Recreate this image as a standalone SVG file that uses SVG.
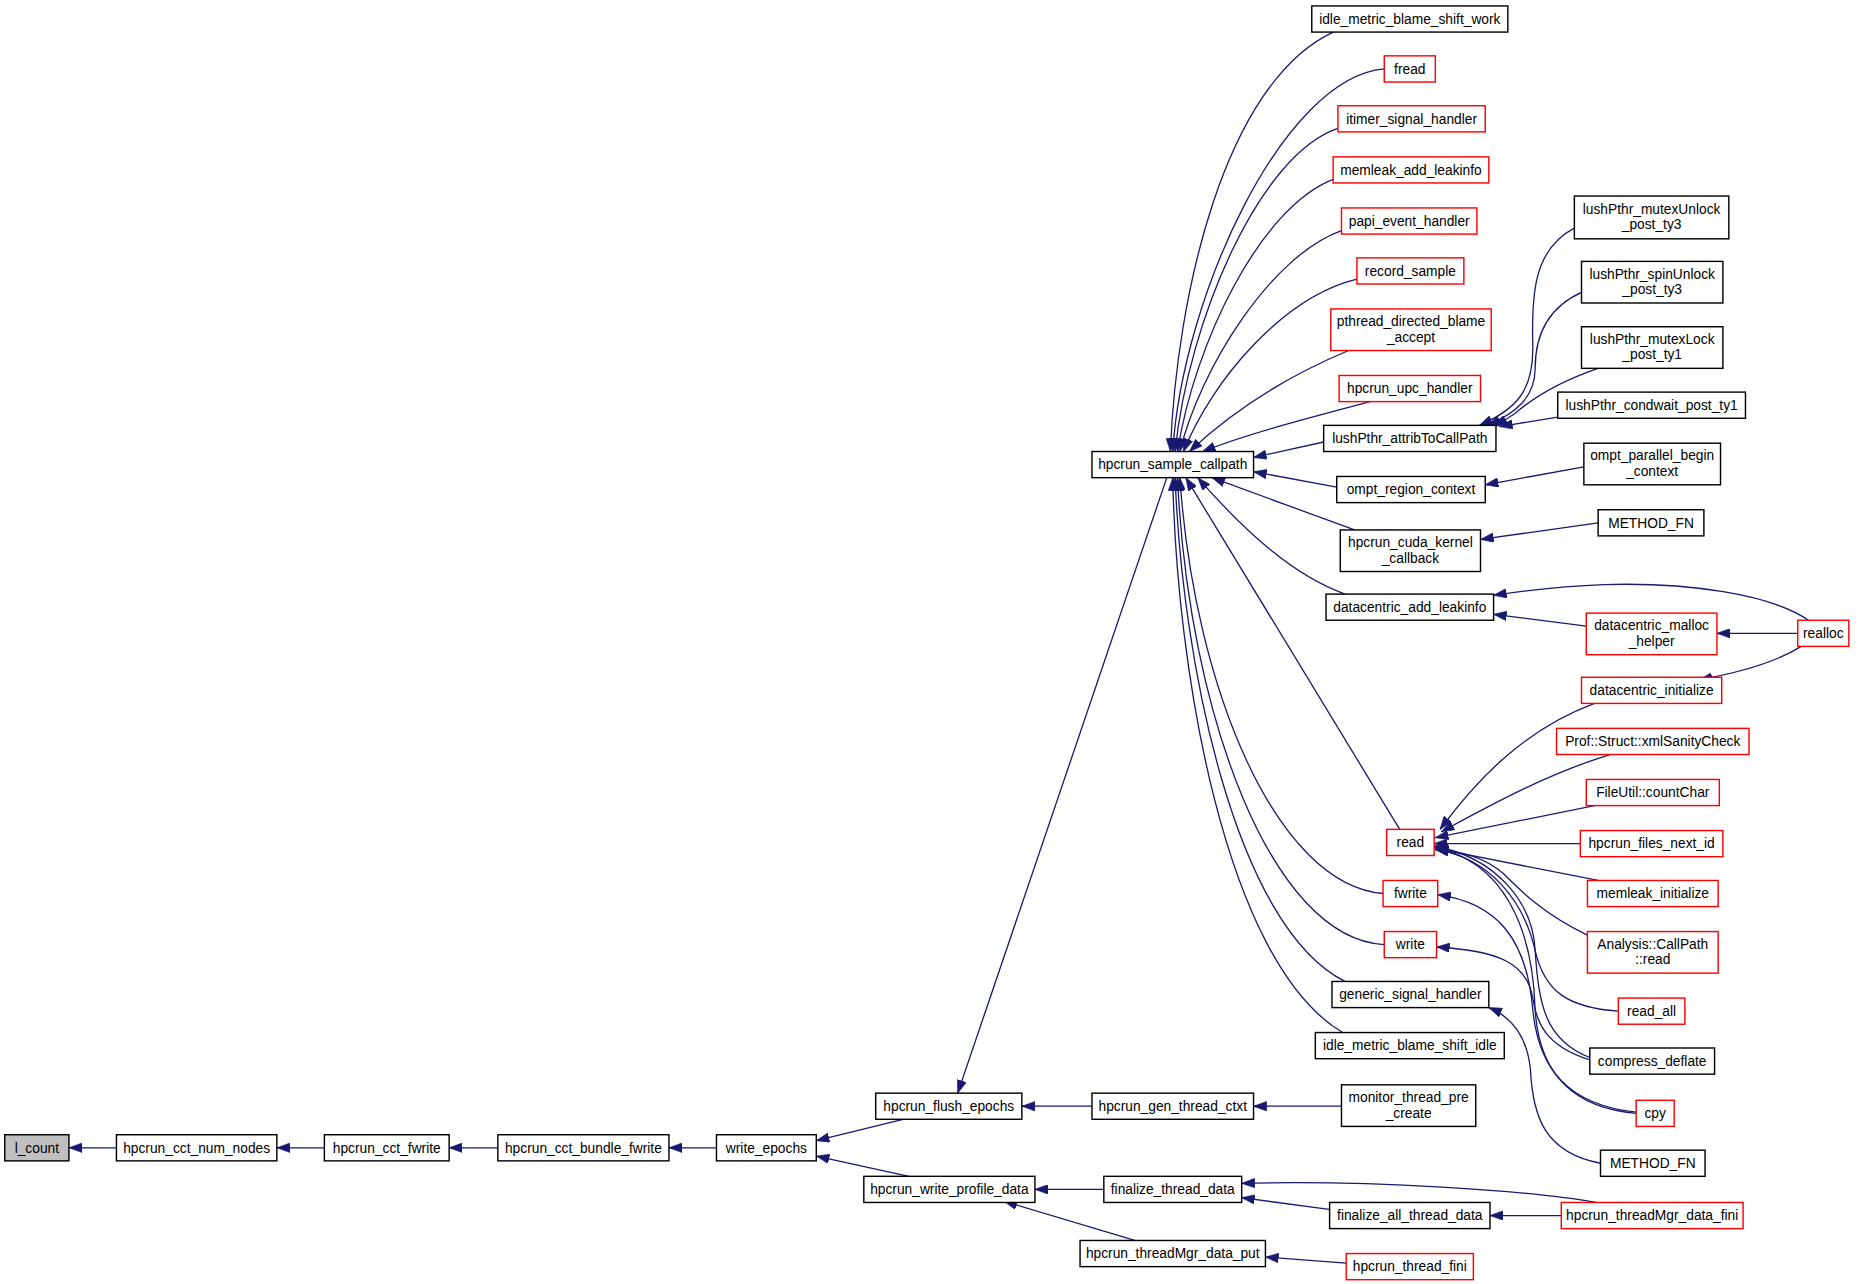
<svg xmlns="http://www.w3.org/2000/svg" width="1863" height="1284" viewBox="0 0 1863 1284">
<defs>
<style>
.n rect{fill:#ffffff;stroke:#000000;stroke-width:1.2}
.r rect{stroke:#ff0000}
.g rect{fill:#bfbfbf}
text{font-family:"Liberation Sans",Arial,Helvetica,sans-serif;font-size:11.6px;text-anchor:middle;fill:#000000}
.e path{fill:none;stroke:#191970;stroke-width:1.1;marker-end:url(#a)}
</style>
<marker id="a" viewBox="0 0 11 8" refX="11" refY="4" markerWidth="11" markerHeight="8" markerUnits="userSpaceOnUse" orient="auto">
<path d="M0,0 L11,4 L0,8 Z" fill="#191970" stroke="#191970" stroke-width="0.5"/>
</marker>
</defs>
<rect x="0" y="0" width="1863" height="1284" fill="#ffffff"/>
<g transform="scale(1.1882)">
<g id="edges" class="e">
<path d="M98,966 L58,966"/>
<path d="M273,966 L233,966"/>
<path d="M419,966 L378,966"/>
<path d="M603,966 L563,966"/>
<path d="M760,942 L687,960"/>
<path d="M765,990 L687,973"/>
<path d="M982,402 L806,920"/>
<path d="M919,931 L860,931"/>
<path d="M1129,931 L1055,931"/>
<path d="M929,1001 L871,1001"/>
<path d="M955,1044 L845,1011"/>
<path d="M1120,1018 L1045,1008"/>
<path d="M1343,1012 C1290,1002 1150,993 1045,996"/>
<path d="M1314,1023 L1254,1023"/>
<path d="M1133,1063 L1065,1058"/>
<path d="M1122,27 C1030,70 990,250 985,380"/>
<path d="M1165,58 C1080,65 995,250 987,380"/>
<path d="M1126,108 C1060,130 1000,270 989,380"/>
<path d="M1122,151 C1060,175 1005,290 991,380"/>
<path d="M1129,194 C1070,215 1010,310 993,380"/>
<path d="M1142,235 C1080,250 1020,320 996,380"/>
<path d="M1135,295 C1080,318 1035,348 1001,380"/>
<path d="M1153,338 C1100,352 1050,365 1012,380"/>
<path d="M1114,372 L1055,385"/>
<path d="M1125,410 L1055,397"/>
<path d="M1140,446 L1020,402"/>
<path d="M1132,500 C1090,485 1050,450 1008,402"/>
<path d="M1178,698 L998,402"/>
<path d="M1164,752 C1075,745 1005,580 993,402"/>
<path d="M1165,795 C1070,790 1000,600 991,402"/>
<path d="M1132,826 C1040,780 995,560 989,402"/>
<path d="M1130,869 C1030,810 990,560 987,402"/>
<path d="M1325,192 C1290,210 1289,250 1290,290 C1291,330 1275,345 1245,358"/>
<path d="M1331,246 C1300,260 1292,285 1292,310 C1292,335 1275,348 1252,358"/>
<path d="M1345,310 C1310,322 1290,335 1275,348 L1258,359"/>
<path d="M1311,351 L1262,359"/>
<path d="M1333,393 L1250,408"/>
<path d="M1345,440 L1246,454"/>
<path d="M1335,527 L1257,517"/>
<path d="M1522,522 C1490,500 1420,490 1350,492 C1320,493 1290,496 1257,501"/>
<path d="M1513,533 L1445,533"/>
<path d="M1516,544 C1495,557 1465,566 1430,572"/>
<path d="M1342,592 C1280,615 1240,660 1212,698"/>
<path d="M1355,635 C1300,652 1250,680 1213,700"/>
<path d="M1342,678 L1208,705"/>
<path d="M1330,710 L1207,710"/>
<path d="M1345,741 L1208,714"/>
<path d="M1336,787 C1300,770 1280,750 1265,735 C1250,722 1230,716 1208,715"/>
<path d="M1362,851 C1320,848 1300,835 1292,800 C1283,760 1255,722 1208,715"/>
<path d="M1338,890 C1300,875 1295,845 1292,800 C1290,760 1260,722 1207,712"/>
<path d="M1377,937 C1320,932 1295,900 1292,850 C1290,780 1265,725 1207,713"/>
<path d="M1377,936 C1320,930 1295,900 1290,850 C1285,790 1260,760 1210,753"/>
<path d="M1338,892 C1300,880 1293,860 1290,840 C1285,810 1260,800 1209,797"/>
<path d="M1347,979 C1300,970 1290,940 1288,900 C1285,870 1270,855 1253,848"/>
</g>
<g id="n_l_count" class="n g"><rect x="4" y="955" width="54" height="22"/><text x="31" y="970">l_count</text></g>
<g id="n_hpcrun_cct_num_nodes" class="n"><rect x="98" y="955" width="135" height="22"/><text x="165.5" y="970">hpcrun_cct_num_nodes</text></g>
<g id="n_hpcrun_cct_fwrite" class="n"><rect x="273" y="955" width="105" height="22"/><text x="325.5" y="970">hpcrun_cct_fwrite</text></g>
<g id="n_hpcrun_cct_bundle_fwrite" class="n"><rect x="419" y="955" width="144" height="22"/><text x="491" y="970">hpcrun_cct_bundle_fwrite</text></g>
<g id="n_write_epochs" class="n"><rect x="603" y="955" width="84" height="22"/><text x="645" y="970">write_epochs</text></g>
<g id="n_hpcrun_flush_epochs" class="n"><rect x="737" y="920" width="123" height="22"/><text x="798.5" y="935">hpcrun_flush_epochs</text></g>
<g id="n_hpcrun_write_profile_data" class="n"><rect x="727" y="990" width="144" height="22"/><text x="799" y="1005">hpcrun_write_profile_data</text></g>
<g id="n_hpcrun_sample_callpath" class="n"><rect x="919" y="380" width="136" height="22"/><text x="987" y="395">hpcrun_sample_callpath</text></g>
<g id="n_hpcrun_gen_thread_ctxt" class="n"><rect x="919" y="920" width="136" height="22"/><text x="987" y="935">hpcrun_gen_thread_ctxt</text></g>
<g id="n_finalize_thread_data" class="n"><rect x="929" y="990" width="116" height="22"/><text x="987" y="1005">finalize_thread_data</text></g>
<g id="n_hpcrun_threadMgr_data_put" class="n"><rect x="909" y="1044" width="156" height="22"/><text x="987" y="1059">hpcrun_threadMgr_data_put</text></g>
<g id="n_idle_metric_blame_shift_work" class="n"><rect x="1104" y="5" width="165" height="22"/><text x="1186.5" y="20">idle_metric_blame_shift_work</text></g>
<g id="n_fread" class="n r"><rect x="1165" y="47" width="43" height="22"/><text x="1186.5" y="62">fread</text></g>
<g id="n_itimer_signal_handler" class="n r"><rect x="1126" y="89" width="124" height="22"/><text x="1188" y="104">itimer_signal_handler</text></g>
<g id="n_memleak_add_leakinfo" class="n r"><rect x="1122" y="132" width="131" height="22"/><text x="1187.5" y="147">memleak_add_leakinfo</text></g>
<g id="n_papi_event_handler" class="n r"><rect x="1129" y="175" width="114" height="22"/><text x="1186" y="190">papi_event_handler</text></g>
<g id="n_record_sample" class="n r"><rect x="1142" y="217" width="90" height="22"/><text x="1187" y="232">record_sample</text></g>
<g id="n_pthread_directed_blame_accept" class="n r"><rect x="1120" y="260" width="135" height="35"/><text x="1187.5" y="274.5">pthread_directed_blame</text><text x="1187.5" y="287.5">_accept</text></g>
<g id="n_hpcrun_upc_handler" class="n r"><rect x="1127" y="316" width="119" height="22"/><text x="1186.5" y="331">hpcrun_upc_handler</text></g>
<g id="n_lushPthr_attribToCallPath" class="n"><rect x="1114" y="358" width="145" height="22"/><text x="1186.5" y="373">lushPthr_attribToCallPath</text></g>
<g id="n_ompt_region_context" class="n"><rect x="1125" y="401" width="125" height="22"/><text x="1187.5" y="416">ompt_region_context</text></g>
<g id="n_hpcrun_cuda_kernel_callback" class="n"><rect x="1128" y="446" width="118" height="35"/><text x="1187" y="460.5">hpcrun_cuda_kernel</text><text x="1187" y="473.5">_callback</text></g>
<g id="n_datacentric_add_leakinfo" class="n"><rect x="1116" y="500" width="141" height="22"/><text x="1186.5" y="515">datacentric_add_leakinfo</text></g>
<g id="n_read" class="n r"><rect x="1167" y="698" width="40" height="22"/><text x="1187" y="713">read</text></g>
<g id="n_fwrite" class="n r"><rect x="1164" y="741" width="46" height="22"/><text x="1187" y="756">fwrite</text></g>
<g id="n_write" class="n r"><rect x="1165" y="784" width="44" height="22"/><text x="1187" y="799">write</text></g>
<g id="n_generic_signal_handler" class="n"><rect x="1121" y="826" width="132" height="22"/><text x="1187" y="841">generic_signal_handler</text></g>
<g id="n_idle_metric_blame_shift_idle" class="n"><rect x="1107" y="869" width="159" height="22"/><text x="1186.5" y="884">idle_metric_blame_shift_idle</text></g>
<g id="n_monitor_thread_pre_create" class="n"><rect x="1129" y="913" width="113" height="35"/><text x="1185.5" y="927.5">monitor_thread_pre</text><text x="1185.5" y="940.5">_create</text></g>
<g id="n_finalize_all_thread_data" class="n"><rect x="1119" y="1012" width="135" height="22"/><text x="1186.5" y="1027">finalize_all_thread_data</text></g>
<g id="n_hpcrun_thread_fini" class="n r"><rect x="1133" y="1055" width="107" height="22"/><text x="1186.5" y="1070">hpcrun_thread_fini</text></g>
<g id="n_lushPthr_mutexUnlock_post_ty3" class="n"><rect x="1325" y="165" width="130" height="36"/><text x="1390" y="180">lushPthr_mutexUnlock</text><text x="1390" y="193">_post_ty3</text></g>
<g id="n_lushPthr_spinUnlock_post_ty3" class="n"><rect x="1331" y="220" width="119" height="35"/><text x="1390.5" y="234.5">lushPthr_spinUnlock</text><text x="1390.5" y="247.5">_post_ty3</text></g>
<g id="n_lushPthr_mutexLock_post_ty1" class="n"><rect x="1331" y="275" width="119" height="35"/><text x="1390.5" y="289.5">lushPthr_mutexLock</text><text x="1390.5" y="302.5">_post_ty1</text></g>
<g id="n_lushPthr_condwait_post_ty1" class="n"><rect x="1311" y="330" width="158" height="22"/><text x="1390" y="345">lushPthr_condwait_post_ty1</text></g>
<g id="n_ompt_parallel_begin_context" class="n"><rect x="1333" y="373" width="115" height="35"/><text x="1390.5" y="387.5">ompt_parallel_begin</text><text x="1390.5" y="400.5">_context</text></g>
<g id="n_METHOD_FN_1" class="n"><rect x="1345" y="429" width="89" height="22"/><text x="1389.5" y="444">METHOD_FN</text></g>
<g id="n_datacentric_malloc_helper" class="n r"><rect x="1335" y="516" width="110" height="35"/><text x="1390" y="530.5">datacentric_malloc</text><text x="1390" y="543.5">_helper</text></g>
<g id="n_datacentric_initialize" class="n r"><rect x="1331" y="570" width="118" height="22"/><text x="1390" y="585">datacentric_initialize</text></g>
<g id="n_Prof_Struct_xmlSanityCheck" class="n r"><rect x="1310" y="613" width="162" height="22"/><text x="1391" y="628">Prof::Struct::xmlSanityCheck</text></g>
<g id="n_FileUtil_countChar" class="n r"><rect x="1335" y="656" width="112" height="22"/><text x="1391" y="671">FileUtil::countChar</text></g>
<g id="n_hpcrun_files_next_id" class="n r"><rect x="1330" y="699" width="120" height="22"/><text x="1390" y="714">hpcrun_files_next_id</text></g>
<g id="n_memleak_initialize" class="n r"><rect x="1336" y="741" width="110" height="22"/><text x="1391" y="756">memleak_initialize</text></g>
<g id="n_Analysis_CallPath_read" class="n r"><rect x="1336" y="784" width="110" height="35"/><text x="1391" y="798.5">Analysis::CallPath</text><text x="1391" y="811.5">::read</text></g>
<g id="n_read_all" class="n r"><rect x="1362" y="840" width="56" height="22"/><text x="1390" y="855">read_all</text></g>
<g id="n_compress_deflate" class="n"><rect x="1338" y="882" width="105" height="22"/><text x="1390.5" y="897">compress_deflate</text></g>
<g id="n_cpy" class="n r"><rect x="1377" y="926" width="32" height="22"/><text x="1393" y="941">cpy</text></g>
<g id="n_METHOD_FN_2" class="n"><rect x="1347" y="968" width="88" height="22"/><text x="1391" y="983">METHOD_FN</text></g>
<g id="n_hpcrun_threadMgr_data_fini" class="n r"><rect x="1314" y="1012" width="153" height="22"/><text x="1390.5" y="1027">hpcrun_threadMgr_data_fini</text></g>
<g id="n_realloc" class="n r"><rect x="1513" y="522" width="43" height="22"/><text x="1534.5" y="537">realloc</text></g>
</g>
</svg>
